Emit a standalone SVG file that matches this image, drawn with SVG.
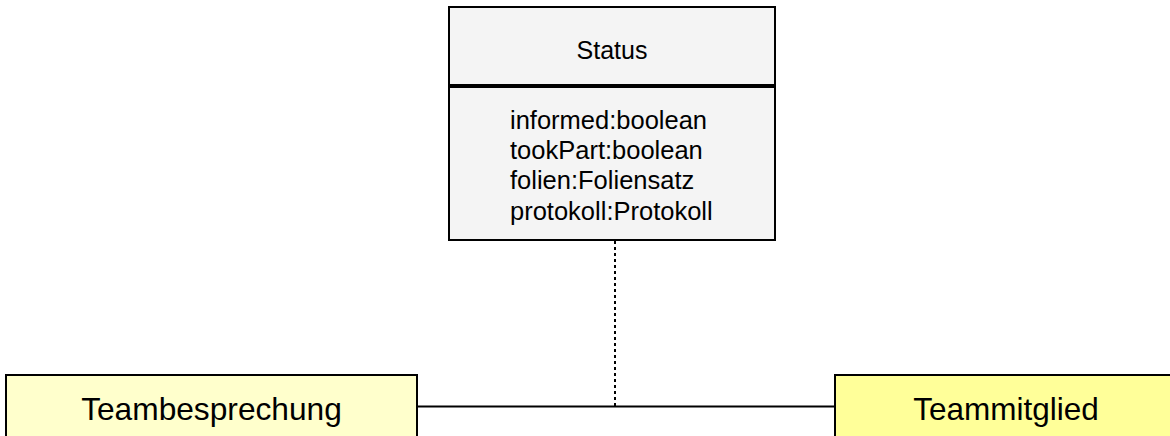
<svg xmlns="http://www.w3.org/2000/svg" width="1170" height="436" viewBox="0 0 1170 436">
<style>
.box{stroke:#000;stroke-width:2}
.t{font-family:"Liberation Sans",Arial,sans-serif;fill:#000}
.line{stroke:#000;stroke-width:2;fill:none}
</style>
<rect width="1170" height="436" fill="#fff"/>
<g id="connectors">
<line class="line" x1="418" y1="406.5" x2="835" y2="406.5"/>
<line class="line" x1="615" y1="241" x2="615" y2="406" stroke-dasharray="3,3" stroke-width="2.5"/>
</g>
<g id="status">
<rect class="box" x="449" y="7" width="326" height="78" fill="#f4f4f4"/>
<rect class="box" x="449" y="87" width="326" height="153" fill="#f4f4f4"/>
<text class="t" x="612" y="58.5" font-size="25" text-anchor="middle">Status</text>
<text class="t" x="510" y="129" font-size="25.5">informed:boolean</text>
<text class="t" x="510" y="159" font-size="25.5">tookPart:boolean</text>
<text class="t" x="510" y="189" font-size="25.5">folien:Foliensatz</text>
<text class="t" x="510" y="220" font-size="25.5">protokoll:Protokoll</text>
</g>
<g id="teambesprechung">
<rect class="box" x="6" y="375" width="411" height="70" fill="#ffffcc"/>
<text class="t" x="211.5" y="420" font-size="31.7" text-anchor="middle">Teambesprechung</text>
</g>
<g id="teammitglied">
<rect class="box" x="835" y="375" width="345" height="70" fill="#ffff99"/>
<text class="t" x="1006" y="420" font-size="31.5" text-anchor="middle">Teammitglied</text>
</g>
</svg>
